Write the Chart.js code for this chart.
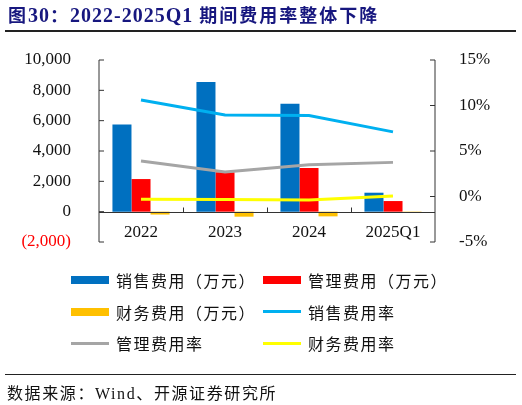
<!DOCTYPE html>
<html>
<head>
<meta charset="utf-8">
<script src="https://cdn.jsdelivr.net/npm/chart.js@4"></script>
<style>
  body { margin: 0; background: #fff; }
  #wrap { position: relative; width: 522px; height: 405px; overflow: hidden; }
  #chart { position: absolute; left: 0; top: 0; }
  #title { position: absolute; left: 8px; top: 1px; font: bold 18px 'Noto Sans CJK SC', sans-serif; color: #17177f; letter-spacing: 2px; white-space: nowrap; }
  #title .en { font-family: 'Liberation Serif', serif; font-size: 20px; letter-spacing: 1px; }
  .rule { position: absolute; left: 5px; width: 511px; height: 1.5px; background: #222; }
  #legend { position: absolute; left: 71px; top: 265px; }
  .item { position: absolute; display: flex; align-items: center; height: 30px; white-space: nowrap; font: 16px 'Noto Sans CJK SC', sans-serif; letter-spacing: 1.5px; color: #111; }
  .sw { width: 38px; margin-right: 7px; }
  #source { position: absolute; left: 7px; top: 380px; font: 16px 'Liberation Serif', 'Noto Sans CJK SC', serif; letter-spacing: 1.6px; color: #111; }
</style>
</head>
<body>
<div id="wrap">
  <canvas id="chart"></canvas>
  <div id="title">图<span class="en">30</span>：<span class="en">2022-2025Q1</span> 期间费用率整体下降</div>
  <div class="rule" style="top:30px"></div>
  <div id="legend"></div>
  <div class="rule" style="top:374px; height:1px"></div>
  <div id="source">数据来源：Wind、开源证券研究所</div>
</div>
<script>
const categories = ['2022', '2023', '2024', '2025Q1'];
const salesExp = [5740, 8550, 7120, 1250];
const adminExp = [2150, 2600, 2880, 700];
const finExp = [-190, -330, -310, -20];
const salesRate = [10.6, 8.95, 8.9, 7.1];
const adminRate = [3.9, 2.7, 3.5, 3.75];
const finRate = [-0.3, -0.33, -0.38, 0.05];

const axisColor = '#333';

// axis lines and inward ticks, plus category labels under the zero line
const axesPlugin = {
    id: 'axes',
    afterDatasetsDraw(chart) {
        const c = chart.ctx;
        const x = chart.scales.x;
        const yl = chart.scales.y;
        const yr = chart.scales.y1;
        const area = chart.chartArea;
        c.save();
        c.strokeStyle = axisColor;
        c.lineWidth = 1;
        c.beginPath();
        c.moveTo(area.left, area.top);
        c.lineTo(area.left, area.bottom);
        yl.ticks.forEach(t => {
            const py = yl.getPixelForValue(t.value);
            c.moveTo(area.left, py);
            c.lineTo(area.left + 5, py);
        });
        c.moveTo(area.right, area.top);
        c.lineTo(area.right, area.bottom);
        yr.ticks.forEach(t => {
            const py = yr.getPixelForValue(t.value);
            c.moveTo(area.right, py);
            c.lineTo(area.right - 5, py);
        });
        const zero = Math.round(yl.getPixelForValue(0)) + 0.5;
        c.moveTo(area.left, zero);
        c.lineTo(area.right, zero);
        const step = (area.right - area.left) / categories.length;
        for (let i = 1; i < categories.length; i++) {
            const px = Math.round(area.left + i * step) + 0.5;
            c.moveTo(px, zero);
            c.lineTo(px, zero - 5);
        }
        c.stroke();
        c.fillStyle = '#111';
        c.font = "17px 'Liberation Serif'";
        c.textAlign = 'center';
        c.textBaseline = 'middle';
        categories.forEach((lab, i) => {
            c.fillText(lab, x.getPixelForValue(i), 233);
        });
        c.restore();
    }
};

const ctx = document.getElementById('chart');
const myChart = new Chart(ctx, {
    data: {
        labels: categories,
        datasets: [
            { type: 'bar', label: '销售费用（万元）', data: salesExp, backgroundColor: '#0070C0', yAxisID: 'y', order: 2 },
            { type: 'bar', label: '管理费用（万元）', data: adminExp, backgroundColor: '#FF0000', yAxisID: 'y', order: 2 },
            { type: 'bar', label: '财务费用（万元）', data: finExp, backgroundColor: '#FFC000', yAxisID: 'y', order: 2 },
            { type: 'line', label: '销售费用率', data: salesRate, borderColor: '#00B0F0', borderWidth: 3, pointRadius: 0, yAxisID: 'y1', order: 1 },
            { type: 'line', label: '管理费用率', data: adminRate, borderColor: '#A5A5A5', borderWidth: 3, pointRadius: 0, yAxisID: 'y1', order: 1 },
            { type: 'line', label: '财务费用率', data: finRate, borderColor: '#FFFF00', borderWidth: 3, pointRadius: 0, yAxisID: 'y1', order: 1 }
        ]
    },
    options: {
        responsive: true,
        maintainAspectRatio: false,
        animation: false,
        layout: { padding: { top: 60, bottom: 163, left: 0, right: 0 } },
        datasets: {
            bar: { categoryPercentage: 0.68, barPercentage: 1.0 }
        },
        scales: {
            x: { display: false },
            y: {
                position: 'left',
                min: -2000, max: 10000,
                grid: { display: false },
                border: { display: false },
                afterFit(s) { s.width = 99; },
                ticks: {
                    stepSize: 2000,
                    padding: 20,
                    font: { family: 'Liberation Serif', size: 17 },
                    color: c => c.tick.value < 0 ? '#FF0000' : '#111',
                    callback: v => v < 0 ? '(' + Math.abs(v).toLocaleString('en-US') + ')' : v.toLocaleString('en-US')
                }
            },
            y1: {
                position: 'right',
                min: -5, max: 15,
                grid: { display: false },
                border: { display: false },
                afterFit(s) { s.width = 87; },
                ticks: {
                    stepSize: 5,
                    padding: 16,
                    font: { family: 'Liberation Serif', size: 17 },
                    color: '#111',
                    callback: v => v + '%'
                }
            }
        },
        plugins: {
            legend: { display: false },
            tooltip: { enabled: false }
        }
    },
    plugins: [axesPlugin]
});

function BuildLegend(){
    const box = document.getElementById('legend');
    myChart.data.datasets.forEach((ds, i) => {
        const item = document.createElement('div');
        item.className = 'item';
        item.style.left = (i % 2 == 0 ? 0 : 192) + 'px';
        item.style.top = (Math.floor(i / 2) * 31.5) + 'px';
        const sw = document.createElement('div');
        sw.className = 'sw';
        if (ds.type == 'bar') {
            sw.style.height = '8px';
            sw.style.background = ds.backgroundColor;
        } else {
            sw.style.height = '3px';
            sw.style.background = ds.borderColor;
        }
        const txt = document.createElement('span');
        txt.textContent = ds.label;
        item.appendChild(sw);
        item.appendChild(txt);
        box.appendChild(item);
    });
}
BuildLegend();
</script>
</body>
</html>
